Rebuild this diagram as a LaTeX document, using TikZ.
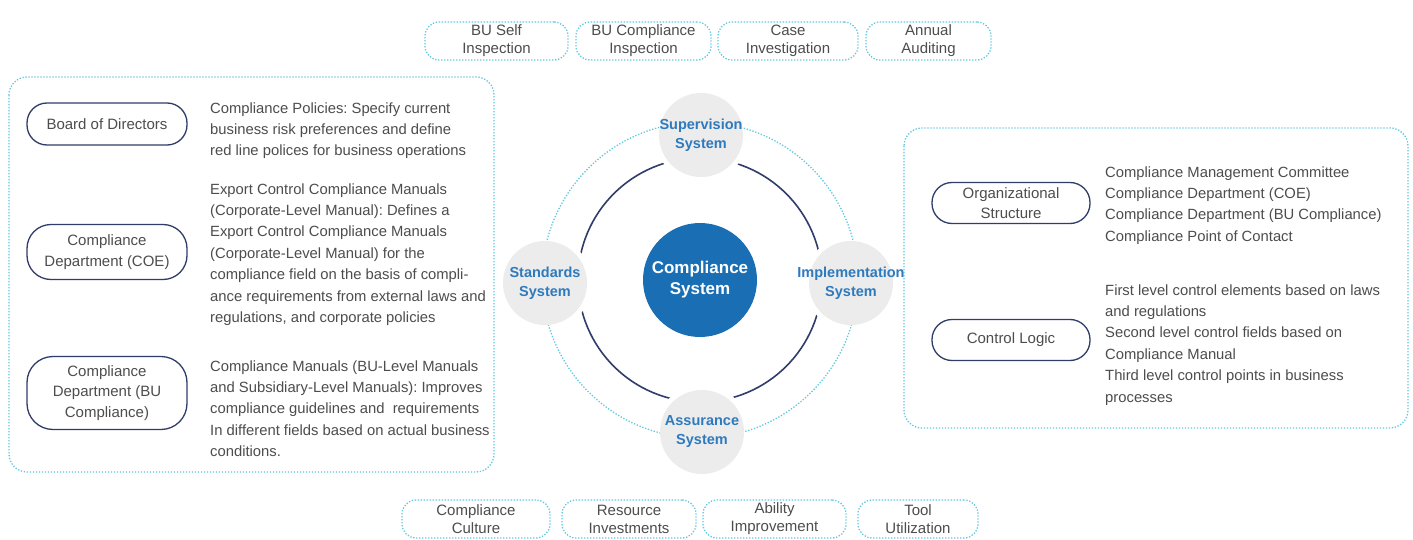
\documentclass[tikz,border=0pt]{standalone}
\usepackage{fontspec}
\setmainfont{Liberation Sans}
\frenchspacing
\definecolor{dotblue}{RGB}{95,200,225}
\definecolor{navy}{RGB}{48,60,105}
\definecolor{txt}{RGB}{77,77,77}
\definecolor{satfill}{RGB}{236,236,236}
\definecolor{sattxt}{RGB}{46,122,190}
\definecolor{core}{RGB}{26,110,180}
\begin{document}
\begin{tikzpicture}[x=1pt,y=-1pt,
 dotline/.style={draw=dotblue, line width=1.3pt, dash pattern=on 1.3pt off 1.7pt},
 dotbox/.style={dotline, rounded corners=18pt},
 tag/.style={dotline, rounded corners=14pt, align=center, text=txt, font=\fontsize{15}{18}\selectfont, inner sep=0pt, minimum height=38pt},
 pill/.style={draw=navy, line width=1.3pt, rounded corners=20pt, align=center, text=txt, font=\fontsize{15}{20.5}\selectfont, minimum width=160pt, inner sep=0pt},
 desc/.style={anchor=north west, align=left, text=txt, font=\fontsize{14.8}{21.4}\selectfont, inner sep=0pt},
 sat/.style={circle, fill=satfill, minimum size=84pt, inner sep=0pt},
 sattext/.style={align=center, text=sattxt, inner sep=0pt, font=\bfseries\fontsize{14.5}{19}\selectfont},
]
\useasboundingbox (0,0) rectangle (1413,540);
\fill[white] (0,0) rectangle (1413,540);

% outer dotted panels
\draw[dotbox] (9,77) rectangle (494,472);
\draw[dotbox] (904,128) rectangle (1408,428);

% top tags
\node[tag, minimum width=143pt] (t1) at (496.5,41) {BU Self\\Inspection};
\node[tag, minimum width=135pt] (t2) at (643.5,41) {BU Compliance\\Inspection};
\node[tag, minimum width=140pt] (t3) at (788,41) {Case\\Investigation};
\node[tag, minimum width=125pt] (t4) at (928.5,41) {Annual\\Auditing};

% bottom tags
\node[tag, minimum width=148pt] (b1) at (476,519) {Compliance\\Culture};
\node[tag, minimum width=134pt] (b2) at (629,519) {Resource\\Investments};
\node[tag, minimum width=143pt] (b3) at (774.5,519) {Ability\\Improvement};
\node[tag, minimum width=120pt] (b4) at (918,519) {Tool\\Utilization};

% central rings
\coordinate (C) at (700,280);
\coordinate (psup) at (701,135);
\coordinate (pstd) at (545,283);
\coordinate (pimp) at (851,283);
\coordinate (pasr) at (702,432);
\draw[navy, line width=1.6pt] (C) circle[radius=122];
\foreach \p in {psup,pstd,pimp,pasr} \fill[white] (\p) circle[radius=47];
\draw[dotline] (C) circle[radius=158];

\node[sat] (sup) at (psup) {};
\node[sat] (std) at (pstd) {};
\node[sat] (imp) at (pimp) {};
\node[sat] (asr) at (pasr) {};
\node[sattext] (supt) at (sup.center) {Supervision\\System};
\node[sattext] (stdt) at (std.center) {Standards\\System};
\node[sattext] (impt) at (imp.center) {Implementation\\System};
\node[sattext] (asrt) at (asr.center) {Assurance\\System};
\node[circle, fill=core, minimum size=114pt, inner sep=0pt, align=center, text=white, font=\bfseries\fontsize{17}{21}\selectfont] (core) at (C) {Compliance\\System};

% left panel
\node[pill, minimum height=42pt] (board) at (107,124) {Board of Directors};
\node[pill, minimum height=55pt, rounded corners=24pt] (coe) at (107,252) {Compliance\\Department (COE)};
\node[pill, minimum height=73pt, rounded corners=26pt] (bu) at (107,393) {Compliance\\Department (BU\\Compliance)};

\node[desc] (d1) at (210,98) {\strut Compliance Policies: Specify current\\business risk preferences and define\\red line polices for business operations};
\node[desc] (d2) at (210,179) {\strut Export Control Compliance Manuals\\(Corporate-Level Manual): Defines a\\Export Control Compliance Manuals\\(Corporate-Level Manual) for the\\compliance field on the basis of compli-\\ance requirements from external laws and\\regulations, and corporate policies};
\node[desc] (d3) at (210,356) {\strut Compliance Manuals (BU-Level Manuals\\and Subsidiary-Level Manuals): Improves\\compliance guidelines and\ \ requirements\\In different fields based on actual business\\conditions.};

% right panel
\node[pill, minimum width=158pt, minimum height=41pt] (org) at (1011,203) {Organizational\\Structure};
\node[pill, minimum width=158pt, minimum height=41pt] (ctl) at (1011,340) {Control Logic};

\node[desc] (d4) at (1105,162) {\strut Compliance Management Committee\\Compliance Department (COE)\\Compliance Department (BU Compliance)\\Compliance Point of Contact};
\node[desc] (d5) at (1105,280) {\strut First level control elements based on laws\\and regulations\\Second level control fields based on\\Compliance Manual\\Third level control points in business\\processes};
\end{tikzpicture}
\end{document}
